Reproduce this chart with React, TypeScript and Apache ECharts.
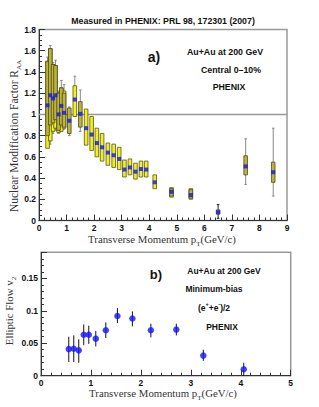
import React, { useEffect, useRef } from "react";
import * as echarts from "echarts";

// ---------- Panel a) R_AA ----------
const raaX = [0.31, 0.41, 0.51, 0.6, 0.71, 0.81, 0.91, 1.1, 1.3, 1.5, 1.71, 1.91, 2.1, 2.29, 2.5, 2.71, 2.91, 3.1, 3.3, 3.5, 3.7, 3.89, 4.2, 4.81, 5.51, 6.5, 7.5, 8.5];
const raaY = [1.085, 1.18, 1.15, 1.18, 1.0, 1.08, 1.015, 0.94, 1.14, 1.005, 0.87, 0.81, 0.73, 0.69, 0.64, 0.615, 0.58, 0.48, 0.5, 0.46, 0.485, 0.48, 0.36, 0.27, 0.24, 0.078, 0.51, 0.455];
const yellowLo = [0.68, 0.75, 0.84, 0.87, 0.83, 0.84, 0.87, null, 0.98, null, 0.71, 0.66, 0.6, 0.56, 0.52, 0.5, 0.48, 0.41, 0.43, 0.39, 0.41, 0.41, 0.3, 0.22, 0.2, null, null, null];
const yellowHi = [1.5, 1.62, 1.47, 1.46, 1.2, 1.25, 1.22, null, 1.27, null, 1.05, 0.98, 0.87, 0.82, 0.73, 0.72, 0.69, 0.57, 0.58, 0.54, 0.56, 0.56, 0.43, 0.31, 0.3, null, null, null];
const oliveLo = [0.8, 0.9, 0.92, 0.95, 0.85, 0.9, 0.88, 0.82, null, 0.88, null, null, null, null, null, null, null, null, null, null, null, null, null, 0.23, 0.21, 0.06, 0.43, 0.36];
const oliveHi = [1.5, 1.62, 1.47, 1.46, 1.2, 1.25, 1.2, 1.06, null, 1.12, null, null, null, null, null, null, null, null, null, null, null, null, null, 0.3, 0.29, 0.1, 0.61, 0.55];
const errLo = [0.7, 0.72, 0.82, 0.85, 0.82, 0.84, 0.86, 0.8, 0.98, 0.84, null, null, null, null, null, null, null, null, null, null, null, null, null, null, null, 0.02, 0.34, 0.23];
const errHi = [1.54, 1.65, 1.49, 1.51, 1.22, 1.32, 1.28, 1.07, 1.36, 1.23, null, null, null, null, null, null, null, null, null, null, null, null, null, null, null, 0.15, 0.77, 0.87];
const raaXTicks = [0, 9, 1];
const raaYTicks = [0, 1.8, 0.2];
const unityLine = [[0, 1], [9, 1]];

// ---------- Panel b) v2 ----------
const v2X = [0.556, 0.656, 0.756, 0.856, 0.957, 1.097, 1.298, 1.53, 1.83, 2.2, 2.71, 3.25, 4.06];
const v2Y = [0.041, 0.0415, 0.039, 0.063, 0.063, 0.057, 0.07, 0.092, 0.088, 0.07, 0.071, 0.031, 0.01];
const v2Lo = [0.021, 0.021, 0.02, 0.047, 0.049, 0.045, 0.058, 0.081, 0.076, 0.059, 0.062, 0.023, 0.0];
const v2Hi = [0.06, 0.062, 0.056, 0.079, 0.077, 0.069, 0.082, 0.104, 0.099, 0.08, 0.08, 0.04, 0.02];
const v2XTicks = [0, 5, 1];
const v2YTicks = [0, 0.19, 0.05];

const SANS = "Liberation Sans, Arial, sans-serif";
const SERIF = "Liberation Serif, Times New Roman, serif";

function ranges(lo: (number | null)[], hi: (number | null)[]) {
  const out: number[][] = [];
  raaX.forEach((x, i) => {
    if (lo[i] != null && hi[i] != null) out.push([x, lo[i] as number, hi[i] as number]);
  });
  return out;
}

function boxSeries(data: number[][], fill: string, stroke: string, z: number) {
  return {
    type: "custom",
    xAxisIndex: 0,
    yAxisIndex: 0,
    z,
    data,
    renderItem: (_p: any, api: any) => {
      const x = api.value(0);
      const a = api.coord([x, api.value(2)]);
      const b = api.coord([x, api.value(1)]);
      const w = 3.6;
      return {
        type: "rect",
        shape: { x: a[0] - w / 2, y: a[1], width: w, height: b[1] - a[1] },
        style: { fill, stroke, lineWidth: 0.8 },
      };
    },
  };
}

function errSeries(data: number[][], color: string, cap: number, xi: number, z: number) {
  return {
    type: "custom",
    xAxisIndex: xi,
    yAxisIndex: xi,
    z,
    data,
    renderItem: (_p: any, api: any) => {
      const x = api.value(0);
      const a = api.coord([x, api.value(2)]);
      const b = api.coord([x, api.value(1)]);
      const children: any[] = [
        { type: "line", shape: { x1: a[0], y1: a[1], x2: b[0], y2: b[1] }, style: { stroke: color, lineWidth: 1 } },
      ];
      if (cap > 0) {
        children.push({ type: "line", shape: { x1: a[0] - cap, y1: a[1], x2: a[0] + cap, y2: a[1] }, style: { stroke: color, lineWidth: 1 } });
        children.push({ type: "line", shape: { x1: b[0] - cap, y1: b[1], x2: b[0] + cap, y2: b[1] }, style: { stroke: color, lineWidth: 1 } });
      }
      return { type: "group", children };
    },
  };
}

function valueAxis(ticks: number[], gridIndex: number, minorSplit: number, showMax: boolean) {
  return {
    type: "value",
    gridIndex,
    min: ticks[0],
    max: ticks[1],
    interval: ticks[2],
    axisLine: { show: true, lineStyle: { color: "#333", width: 1 } },
    axisTick: { show: true, inside: true, length: 6, lineStyle: { color: "#333" } },
    minorTick: { show: true, splitNumber: minorSplit, length: 3, lineStyle: { color: "#333" } },
    splitLine: { show: false },
    axisLabel: {
      color: "#111",
      fontFamily: SANS,
      fontWeight: "bold",
      fontSize: 8.5,
      margin: 3,
      showMaxLabel: showMax,
    },
  };
}

export default function App() {
  const ref = useRef<HTMLDivElement>(null);
  useEffect(() => {
    document.body.style.margin = "0";
    const chart = echarts.init(ref.current!, undefined, { renderer: "svg" });

    const errData = raaX
      .map((x, i) => (errLo[i] != null && errHi[i] != null ? [x, errLo[i] as number, errHi[i] as number] : null))
      .filter((d) => d != null) as number[][];
    const errGray = errData.filter((d) => d[0] !== 6.5);
    const errBlack = errData.filter((d) => d[0] === 6.5);

    const t = (x: number, y: number, text: string, size = 8.5, extra: any = {}) => ({
      type: "text",
      x,
      y,
      style: { text, fontFamily: SANS, fontWeight: "bold", fontSize: size, fill: "#111", align: "center", verticalAlign: "middle", ...extra },
    });

    const sub = (x: number, y: number, main: string, s: string, tail: string, size: number, rot: number) => ({
      type: "text",
      x,
      y,
      rotation: rot,
      style: {
        text: `{m|${main}}{s|${s}}` + (tail ? `{m|${tail}}` : ""),
        align: "center",
        verticalAlign: "middle",
        rich: {
          m: { fontFamily: SERIF, fontSize: size, fill: "#333", lineHeight: 16 },
          s: { fontFamily: SERIF, fontSize: 7, fill: "#333", lineHeight: 8, verticalAlign: "bottom" },
        },
      },
    });

    chart.setOption({
      animation: false,
      grid: [
        { left: 39, top: 29.5, width: 248, height: 191, show: true, borderColor: "#999", borderWidth: 1.5, backgroundColor: "transparent" },
        { left: 41, top: 252.3, width: 249.7, height: 123.4, show: true, borderColor: "#999", borderWidth: 1.5, backgroundColor: "transparent" },
      ],
      xAxis: [valueAxis(raaXTicks, 0, 5, true), valueAxis(v2XTicks, 1, 5, true)],
      yAxis: [valueAxis(raaYTicks, 0, 4, true), valueAxis(v2YTicks, 1, 5, false)],
      series: [
        {
          type: "line",
          xAxisIndex: 0,
          yAxisIndex: 0,
          data: unityLine,
          symbol: "none",
          lineStyle: { color: "#999", width: 1.5 },
          z: 1,
        },
        errSeries(errGray, "#888", 1.3, 0, 2),
        errSeries(errBlack, "#222", 1.3, 0, 2),
        boxSeries(ranges(yellowLo, yellowHi), "#f4f01c", "#55551a", 3),
        boxSeries(ranges(oliveLo, oliveHi), "#bdb53a", "#4a4a1a", 4),
        {
          type: "scatter",
          xAxisIndex: 0,
          yAxisIndex: 0,
          data: raaX.map((x, i) => [x, raaY[i]]),
          symbol: "rect",
          symbolSize: 4,
          itemStyle: { color: "#1414ee" },
          z: 6,
        },
        errSeries(v2X.map((x, i) => [x, v2Lo[i], v2Hi[i]]), "#111", 0, 1, 2),
        {
          type: "scatter",
          xAxisIndex: 1,
          yAxisIndex: 1,
          data: v2X.map((x, i) => [x, v2Y[i]]),
          symbol: "circle",
          symbolSize: 6.5,
          itemStyle: { color: "#1414ff" },
          z: 6,
        },
      ],
      graphic: [
        t(163, 21, "Measured in PHENIX: PRL 98, 172301 (2007)", 8.8),
        t(154, 57, "a)", 14),
        t(225, 52, "Au+Au at 200 GeV", 8.8),
        t(231, 70, "Central 0\u201310%", 8.8),
        t(229, 87, "PHENIX", 8.8),
        t(156, 274, "b)", 13),
        t(224, 271, "Au+Au at 200 GeV", 8.5),
        t(214, 289, "Minimum-bias", 8.5),
        {
          type: "text",
          x: 214,
          y: 308,
          style: {
            text: "{m|(e}{s|+}{m|+e}{s|-}{m|)/2}",
            align: "center",
            verticalAlign: "middle",
            rich: {
              m: { fontFamily: SANS, fontWeight: "bold", fontSize: 8.5, fill: "#111", lineHeight: 14 },
              s: { fontFamily: SANS, fontWeight: "bold", fontSize: 5.5, fill: "#111", lineHeight: 7, verticalAlign: "top" },
            },
          },
        },
        t(222, 327, "PHENIX", 8.5),
        sub(14, 136, "Nuclear Modification Factor R", "AA", "", 11.5, Math.PI / 2),
        sub(162, 239, "Transverse Momentum p", "T", "(GeV/c)", 10.8, 0),
        sub(9, 311, "Elliptic Flow v", "2", "", 10.8, Math.PI / 2),
        sub(163, 393, "Transverse Momentum p", "T", "(GeV/c)", 10.8, 0),
      ],
    });
    return () => chart.dispose();
  }, []);
  return <div ref={ref} style={{ width: 319, height: 407 }} />;
}
